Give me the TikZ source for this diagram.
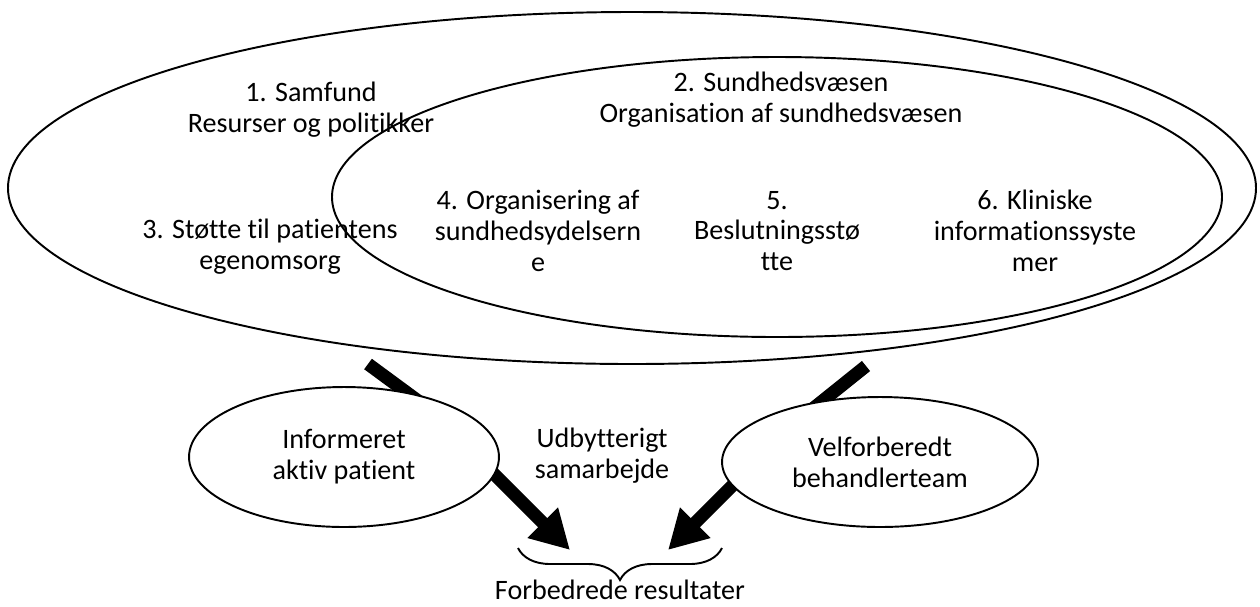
\documentclass[tikz,border=0pt]{standalone}
\usepackage{fontspec}
\setmainfont{Carlito}[Ligatures={NoCommon}]
\usepackage{tikz}
\usetikzlibrary{arrows.meta, calc, shapes.geometric, decorations.pathreplacing, backgrounds}

\begin{document}
\begin{tikzpicture}[x=0.02cm, y=-0.02cm,
	every node/.style={font=\fontsize{16}{17.6}\selectfont, align=center, inner sep=0pt},
	oval/.style={ellipse, draw=black, line width=1.1pt, fill=white},
	bar/.style={line width=7.4pt},
	push/.style={line width=7.4pt, -{Triangle[width=23pt, length=22pt]}}]

	\useasboundingbox (0,0) rectangle (1260,606);

	% the two big rings: society and health care
	\draw[line width=1.1pt] (632,188) ellipse [x radius=624, y radius=176];
	\draw[line width=1.1pt] (777,197) ellipse [x radius=445, y radius=140];

	\node (samfund) at (311,110) {1. Samfund\\Resurser og politikker};
	\node (sundhed) at (781,100) {2. Sundhedsvæsen\\Organisation af sundhedsvæsen};
	\node (egen) at (270,247) {3. Støtte til patientens\\egenomsorg};
	\node (ydelse) at (538,231) {4. Organisering af\\sundhedsydelsern\\e};
	\node (beslut) at (777,231) {5.\\Beslutningsstø\\tte};
	\node (klinik) at (1035,231) {6. Kliniske\\informationssyste\\mer};

	% the two actors
	\node[oval, minimum width=6.2cm, minimum height=2.8cm] (patient) at (344,457) {Informeret\\aktiv patient};
	\node[oval, minimum width=6.32cm, minimum height=2.6cm] (team) at (880,462) {Velforberedt\\behandlerteam};
	\node (samarb) at (602,456) {Udbytterigt\\samarbejde};

	\coordinate (outL) at (368,364);
	\coordinate (outR) at (866,366);
	\coordinate (inL) at (440,417);
	\coordinate (inR) at (790,427);
	\coordinate (fromL) at (470,450);
	\coordinate (fromR) at (760,458);
	\coordinate (tipL) at (570,550);
	\coordinate (tipR) at (668,550);

	% arrows go under the white ovals
	\begin{pgfonlayer}{background}
		\draw[bar] (outL) -- (inL);
		\draw[bar] (outR) -- (inR);
		\draw[push] (fromL) -- (tipL);
		\draw[push] (fromR) -- (tipR);
	\end{pgfonlayer}

	\draw[line width=1.1pt, decorate, decoration={brace, mirror, amplitude=0.64cm}] (518,548) -- (722,548);
	\node (result) at (620,590) {Forbedrede resultater};

\end{tikzpicture}
\end{document}
